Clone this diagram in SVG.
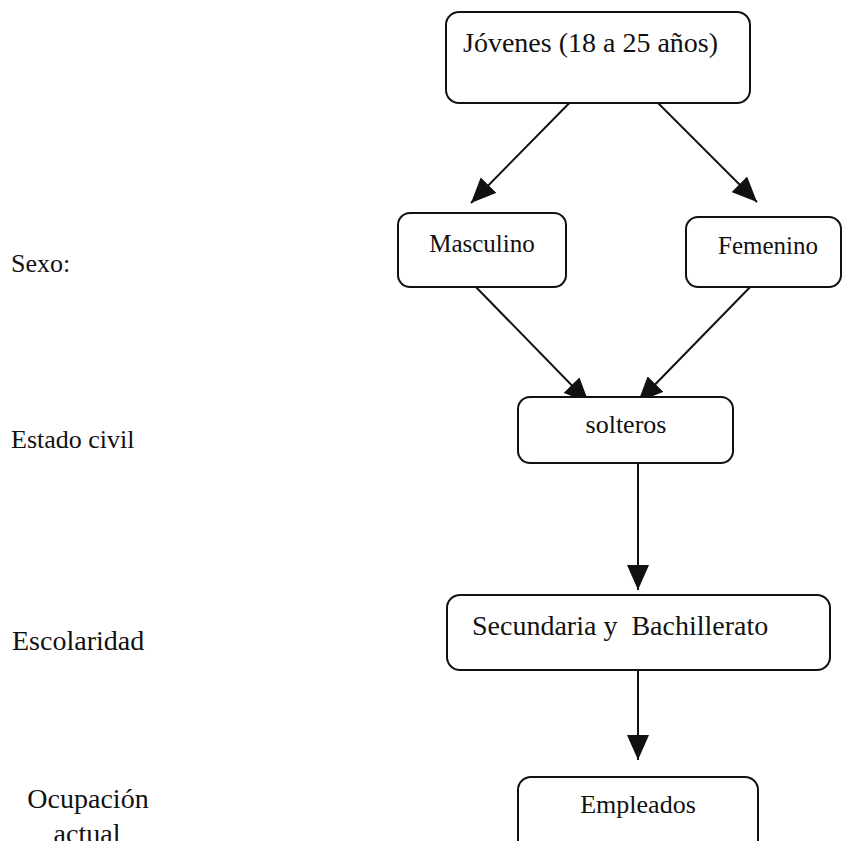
<svg xmlns="http://www.w3.org/2000/svg" width="843" height="841" viewBox="0 0 843 841">
<style>
.box{fill:#fff;stroke:#111;stroke-width:2}
.t{font-family:"Liberation Serif","Times New Roman",serif;fill:#111}
.c{text-anchor:middle}
.edge{stroke:#111;stroke-width:2;fill:none;marker-end:url(#ah)}
</style>
<defs>
<marker id="ah" markerUnits="userSpaceOnUse" markerWidth="26" markerHeight="22" refX="25" refY="11" orient="auto">
<path d="M0,0 L25,11 L0,22 Z" fill="#111"/>
</marker>
</defs>
<rect width="843" height="841" fill="#fff"/>
<g id="labels">
<text class="t" x="11" y="272" font-size="26">Sexo:</text>
<text class="t" x="11" y="448" font-size="26">Estado civil</text>
<text class="t" x="12" y="650" font-size="28">Escolaridad</text>
<text class="t c" x="88" y="808" font-size="28">Ocupación</text>
<text class="t c" x="87" y="843" font-size="28">actual</text>
</g>
<g id="connectors">
<path class="edge" d="M590,82 L471,203"/>
<path class="edge" d="M637,82 L757,202"/>
<path class="edge" d="M472,283 L589,403"/>
<path class="edge" d="M757,280 L638,402"/>
<path class="edge" d="M638,463 L638,590"/>
<path class="edge" d="M638,670 L638,760"/>
</g>
<g id="jovenes">
<rect class="box" x="446" y="12" width="304" height="91" rx="13"/>
<text class="t" x="463" y="52" font-size="28">Jóvenes (18 a 25 años)</text>
</g>
<g id="masculino">
<rect class="box" x="398" y="213" width="168" height="74" rx="12"/>
<text class="t c" x="482" y="252" font-size="25">Masculino</text>
</g>
<g id="femenino">
<rect class="box" x="686" y="217" width="155" height="70" rx="12"/>
<text class="t c" x="768" y="254" font-size="25">Femenino</text>
</g>
<g id="solteros">
<rect class="box" x="518" y="397" width="215" height="66" rx="12"/>
<text class="t c" x="626" y="433" font-size="26">solteros</text>
</g>
<g id="escolaridad">
<rect class="box" x="447" y="595" width="383" height="75" rx="13"/>
<text class="t" x="472" y="635" font-size="28" style="white-space:pre">Secundaria y  Bachillerato</text>
</g>
<g id="empleados">
<rect class="box" x="518" y="777" width="240" height="90" rx="13"/>
<text class="t c" x="638" y="813" font-size="26">Empleados</text>
</g>
</svg>
